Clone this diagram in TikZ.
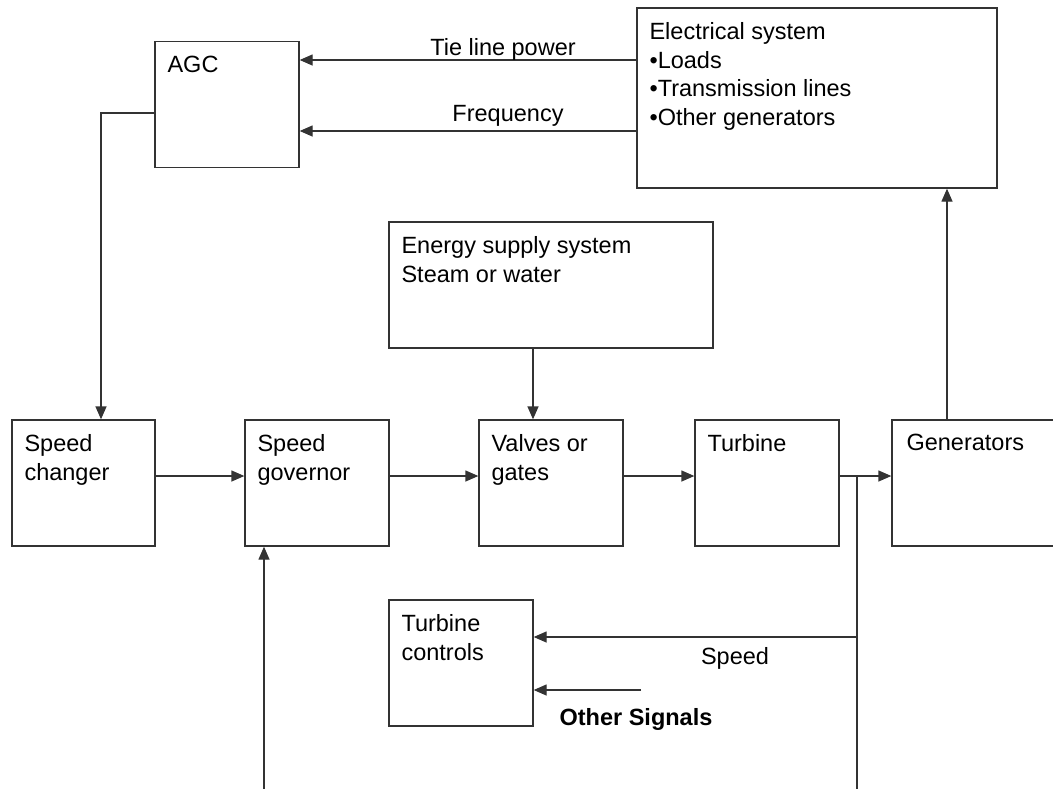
\documentclass[tikz,border=0pt]{standalone}
\usepackage{fontspec}
\setmainfont{Liberation Sans}
\usetikzlibrary{arrows.meta}
\tikzset{
  blk/.style={draw=black!80, line width=1.3pt, minimum width=144pt, minimum height=126pt, inner sep=0pt},
  txt/.style={anchor=north west, align=left, inner sep=0pt, xshift=13pt, yshift=-15pt},
  arr/.style={draw=black!80, line width=1.3pt, -{Triangle[length=13pt,width=11pt]}},
  ln/.style={draw=black!80, line width=1.3pt}
}
\begin{document}
\begin{tikzpicture}[x=1pt,y=-1pt,font=\fontsize{23.5}{28.5}\selectfont]
            \useasboundingbox (0,0) rectangle (1053,788);
            \clip (0,0) rectangle (1053,788);
            % blocks
            \node[blk, label={[txt]north west:AGC}] (agc) at (227,104.5) {};
            \node[blk, minimum width=360pt, minimum height=180pt,
                  label={[txt]north west:{Electrical system\\•Loads\\•Transmission lines\\•Other generators}}] (elec) at (817,98) {};
            \node[blk, minimum width=324pt, label={[txt]north west:{Energy supply system\\Steam or water}}] (es) at (551,285) {};
            \node[blk, minimum width=143pt, label={[txt]north west:{Speed\\changer}}] (sc) at (83.5,483) {};
            \node[blk, label={[txt]north west:{Speed\\governor}}] (sg) at (317,483) {};
            \node[blk, label={[txt]north west:{Valves or\\gates}}] (vg) at (551,483) {};
            \node[blk, label={[txt]north west:Turbine}] (tb) at (767,483) {};
            \node[blk, minimum width=170pt, label={[txt,xshift=2pt]north west:Generators}] (gen) at (977,483) {};
            \node[blk, label={[txt]north west:{Turbine\\controls}}] (tc) at (461,663) {};
            % signals to AGC
            \draw[arr] ([yshift=38pt]elec.west) coordinate (tl) -- (agc.east |- tl);
            \draw[arr] ([yshift=-33pt]elec.west) coordinate (fq) -- (agc.east |- fq);
            \node at (503,49) {Tie line power};
            \node at (508,116) {Frequency};
            \draw[arr] ([yshift=-8.5pt]agc.west) -| ([xshift=17.5pt]sc.north);
            % main chain
            \draw[arr] ([yshift=7pt]sc.east) -- ([yshift=7pt]sg.west);
            \draw[arr] ([yshift=7pt]sg.east) -- ([yshift=7pt]vg.west);
            \draw[arr] ([xshift=-18pt]es.south) -- ([xshift=-18pt]vg.north);
            \draw[arr] ([yshift=7pt]vg.east) -- ([yshift=7pt]tb.west);
            \draw[arr] ([yshift=7pt]tb.east) -- ([yshift=7pt]gen.west);
            \coordinate (ebot) at ([xshift=130pt]elec.south);
            \draw[arr] (ebot |- gen.north) -- (ebot);
            % feedback
            \coordinate (br) at (857,476);
            \coordinate (bot) at (857,790);
            \draw[ln] (br) -- (bot);
            \coordinate (spd) at ([yshift=26pt]tc.east);
            \draw[arr] (br |- spd) -- (spd);
            \node at (735,658) {Speed};
            \coordinate (os) at (641,690);
            \draw[arr] (os) -- (tc.east |- os);
            \node[font=\fontsize{23.5}{28.5}\selectfont\bfseries] at (636,719) {Other Signals};
            \coordinate (fb) at (264,790);
            \draw[arr] (fb) -- (fb |- sg.south);
        \end{tikzpicture}
\end{document}
